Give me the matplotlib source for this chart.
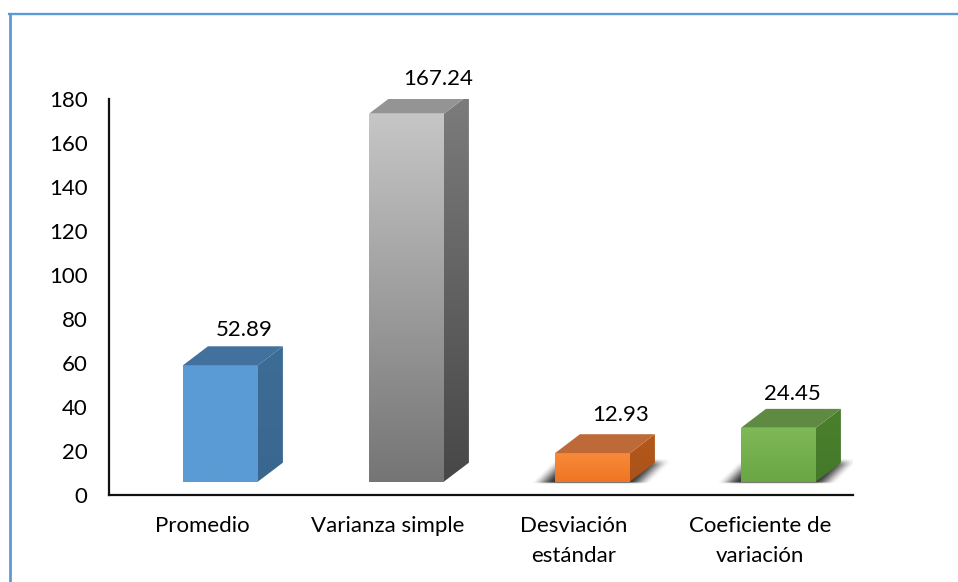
import numpy as np
import matplotlib
matplotlib.use("Agg")
import matplotlib.pyplot as plt
from matplotlib.patches import Polygon
from matplotlib.colors import LinearSegmentedColormap
from matplotlib.lines import Line2D

categories = ["Promedio", "Varianza simple", "Desviación\nestándar", "Coeficiente de\nvariación"]
values = [52.89, 167.24, 12.93, 24.45]
value_labels = ["52.89", "167.24", "12.93", "24.45"]
y_ticks = [0, 20, 40, 60, 80, 100, 120, 140, 160, 180]

front_top = ["#5B9BD5", "#C6C6C6", "#F98A3A", "#7FB957"]
front_bot = ["#5B9BD5", "#757575", "#EE7522", "#6BA644"]
side_top = ["#3D6C96", "#7C7C7C", "#B5591B", "#4B7F2D"]
side_bot = ["#3A678F", "#474747", "#A9521A", "#437A29"]
top_col = ["#41719C", "#949494", "#BD6A38", "#5E8A42"]
has_shadow = [False, False, True, True]
label_dx = [24, 32, 28, 14]
label_dy = [35, 35, 38, 34]

W, H = 958, 582
plt.rcParams["font.family"] = ["Lato", "DejaVu Sans"]
fig = plt.figure(figsize=(W / 100, H / 100), dpi=100, facecolor="white")
L, R, T, B = 109, 853, 99, 495
ax = fig.add_axes([L / W, 1 - B / H, (R - L) / W, (B - T) / H])
ax.set_xlim(-0.5, 3.5)
ax.set_ylim(0, 180)
ax.patch.set_alpha(0)

# 3-D look, in data units
floor = 6.1
off = -0.102
bw = 0.403
dx = 0.134
dy = 8.6
px_x = 1 / 186.0
px_y = 1 / 2.2


def grad(poly, c1, c2, zorder):
    """Fill polygon with a vertical gradient c1 (top) to c2 (bottom)."""
    pts = np.array(poly)
    cmap = LinearSegmentedColormap.from_list("g", [c1, c2])
    im = ax.imshow(np.linspace(0, 1, 256)[:, None], cmap=cmap, aspect="auto", origin="upper",
                   extent=[pts[:, 0].min(), pts[:, 0].max(), pts[:, 1].min(), pts[:, 1].max()],
                   zorder=zorder, interpolation="bilinear")
    clip = Polygon(poly, transform=ax.transData, fc="none", ec="none")
    ax.add_patch(clip)
    im.set_clip_path(clip)


def smooth(u):
    u = np.clip(u, 0, 1)
    return u * u * (3 - 2 * u)


def shadow(x0, x1, y0, zorder):
    """Soft slanted floor shadow: a blurred parallelogram behind a short bar."""
    left = x0 - 26 * px_x
    right = x1 + 20 * px_x
    shear = 26 * px_x
    height = 25 * px_y
    xa, xb = left - 2 * px_x, right + shear + 4 * px_x
    xs = np.linspace(xa, xb, 400)
    ts = np.linspace(0, 1, 60)
    a = np.zeros((60, 400, 4))
    a[..., :3] = 0.2
    for j, t in enumerate(ts):
        xl = left + t * shear
        xr = right + t * shear
        e = smooth((xs - xl) / (24 * px_x)) * smooth((xr - xs) / (24 * px_x))
        a[j, :, 3] = e * smooth(t / 0.08) * smooth((1 - t) / 0.3)
    ax.imshow(a, aspect="auto", origin="lower", extent=[xa, xb, y0 - 1.0, y0 - 1.0 + height],
              zorder=zorder, interpolation="bilinear")


for i, v in enumerate(values):
    x0 = i + off
    x1 = x0 + bw
    y0, y1 = floor, floor + v
    if has_shadow[i]:
        shadow(x0, x1, y0, 1)
    grad([(x0, y0), (x1, y0), (x1, y1), (x0, y1)], front_top[i], front_bot[i], 3)
    grad([(x1, y0), (x1 + dx, y0 + dy), (x1 + dx, y1 + dy), (x1, y1)], side_top[i], side_bot[i], 3)
    ax.add_patch(Polygon([(x0, y1), (x1, y1), (x1 + dx, y1 + dy), (x0 + dx, y1 + dy)],
                         fc=top_col[i], ec="none", zorder=3))
    ax.annotate(value_labels[i], xy=((x0 + x1) / 2, y1), xytext=(label_dx[i] * .72, label_dy[i] * .72),
                textcoords="offset points", ha="center", va="center", fontsize=16, color="black", zorder=5)

ax.set_xlim(-0.5, 3.5)
ax.set_ylim(0, 180)
ax.set_xticks(range(len(categories)))
ax.set_xticklabels(categories, fontsize=16, color="black", linespacing=1.62)
ax.set_yticks(y_ticks)
ax.tick_params(axis="y", length=0, pad=15.5, labelsize=16)
ax.tick_params(axis="x", length=0, pad=15)
for s in ("top", "right"):
    ax.spines[s].set_visible(False)
for s in ("left", "bottom"):
    ax.spines[s].set_linewidth(1.6)
    ax.spines[s].set_color("#111111")

# outer frame
frame = "#5B9BD5"
fig.add_artist(Line2D([9.5 / W, 9.5 / W], [0, 1 - 13 / H], color=frame, lw=2.0, solid_capstyle="butt"))
fig.add_artist(Line2D([8 / W, 1], [1 - 14.2 / H, 1 - 14.2 / H], color=frame, lw=1.7, solid_capstyle="butt"))

fig.savefig("out.png", dpi=100)
